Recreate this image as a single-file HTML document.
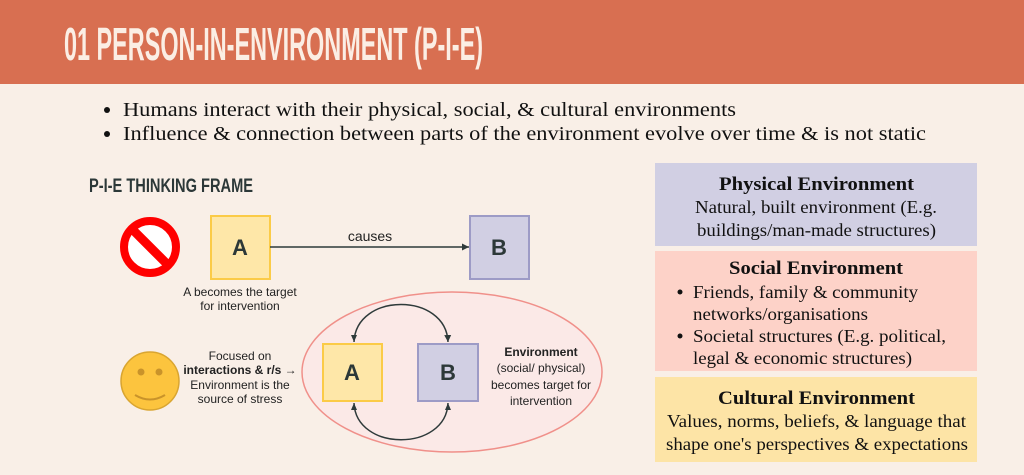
<!DOCTYPE html>
<html><head><meta charset="utf-8"><style>
html,body{margin:0;padding:0;background:#f9efe7;}
svg{display:block}
</style></head><body>
<svg width="1024" height="475" viewBox="0 0 1024 475" xmlns="http://www.w3.org/2000/svg">
<defs>
<marker id="ah" markerWidth="8" markerHeight="8" refX="7" refY="4" orient="auto" markerUnits="userSpaceOnUse"><path d="M0,0.5 L7,4 L0,7.5 z" fill="#2e3a3a"/></marker>
</defs>
<rect width="1024" height="475" fill="#f9efe7"/>
<rect width="1024" height="84" fill="#d86f51"/>
<text x="64" y="60" font-family="'Liberation Sans Narrow', 'Liberation Sans', sans-serif" font-weight="bold" font-size="46" fill="#fbeee4" textLength="419" lengthAdjust="spacingAndGlyphs">01 PERSON-IN-ENVIRONMENT (P-I-E)</text>

<g font-family="'Liberation Serif', serif" font-size="20" fill="#111">
<circle cx="107" cy="110" r="3" fill="#111"/>
<text x="123" y="116" textLength="613" lengthAdjust="spacingAndGlyphs">Humans interact with their physical, social, &amp; cultural environments</text>
<circle cx="107" cy="134" r="3" fill="#111"/>
<text x="123" y="140" textLength="803" lengthAdjust="spacingAndGlyphs">Influence &amp; connection between parts of the environment evolve over time &amp; is not static</text>
</g>

<text x="89" y="192" font-family="'Liberation Sans Narrow', 'Liberation Sans', sans-serif" font-weight="bold" font-size="19" fill="#2c3838" textLength="164" lengthAdjust="spacingAndGlyphs">P-I-E THINKING FRAME</text>

<circle cx="150" cy="247" r="26" fill="#fff" stroke="#f00" stroke-width="8"/>
<line x1="132" y1="229" x2="168" y2="265" stroke="#f00" stroke-width="9"/>

<rect x="211" y="216" width="59" height="63" fill="#fee7a8" stroke="#fbcb47" stroke-width="2"/>
<text x="240" y="255" text-anchor="middle" font-family="'Liberation Sans Narrow', 'Liberation Sans', sans-serif" font-weight="bold" font-size="22" fill="#2c3838">A</text>
<rect x="470" y="216" width="59" height="63" fill="#d1cfe3" stroke="#9d9bc6" stroke-width="2"/>
<text x="499" y="255" text-anchor="middle" font-family="'Liberation Sans Narrow', 'Liberation Sans', sans-serif" font-weight="bold" font-size="22" fill="#2c3838">B</text>
<line x1="270" y1="247" x2="469" y2="247" stroke="#2e3a3a" stroke-width="1.5" marker-end="url(#ah)"/>
<g font-family="'Liberation Sans', sans-serif" font-size="12" fill="#222" text-anchor="middle">
<text x="370" y="241" font-size="14">causes</text>
<text x="240" y="296">A becomes the target</text>
<text x="240" y="310">for intervention</text>
</g>

<ellipse cx="452" cy="372" rx="150" ry="80" fill="#fbe9e7" stroke="#f0908a" stroke-width="1.5"/>
<rect x="323" y="344" width="59" height="57" fill="#fee7a8" stroke="#fbcb47" stroke-width="2"/>
<text x="352" y="380" text-anchor="middle" font-family="'Liberation Sans Narrow', 'Liberation Sans', sans-serif" font-weight="bold" font-size="22" fill="#2c3838">A</text>
<rect x="418" y="344" width="60" height="57" fill="#d1cfe3" stroke="#9d9bc6" stroke-width="2"/>
<text x="448" y="380" text-anchor="middle" font-family="'Liberation Sans Narrow', 'Liberation Sans', sans-serif" font-weight="bold" font-size="22" fill="#2c3838">B</text>
<path d="M354,342 C356,292 446,292 448,342" fill="none" stroke="#2e3a3a" stroke-width="1.5" marker-end="url(#ah)"/>
<path d="M354,342 l-3,-7 l6,0 z" fill="#2e3a3a"/>
<path d="M354,403 C356,452 446,452 448,403" fill="none" stroke="#2e3a3a" stroke-width="1.5"/>
<path d="M354,403 l-3,7 l6,0 z" fill="#2e3a3a"/>
<path d="M448,403 l-3,7 l6,0 z" fill="#2e3a3a"/>

<circle cx="150" cy="381" r="29" fill="#fcc43e" stroke="#d9a531" stroke-width="1.5"/>
<circle cx="141" cy="372" r="3.5" fill="#c9932a"/>
<circle cx="159" cy="372" r="3.5" fill="#c9932a"/>
<path d="M135,395 Q150,404 165,395" fill="none" stroke="#c9932a" stroke-width="2"/>

<g font-family="'Liberation Sans', sans-serif" font-size="12" fill="#222" text-anchor="middle">
<text x="240" y="360">Focused on</text>
<text x="240" y="374"><tspan font-weight="bold">interactions &amp; r/s</tspan> →</text>
<text x="240" y="389">Environment is the</text>
<text x="240" y="403">source of stress</text>
<text x="541" y="356" font-weight="bold">Environment</text>
<text x="541" y="372">(social/ physical)</text>
<text x="541" y="389">becomes target for</text>
<text x="541" y="405">intervention</text>
</g>

<rect x="655" y="163" width="322" height="83" fill="#d1cfe3"/>
<rect x="655" y="251" width="322" height="120" fill="#fdd2c8"/>
<rect x="655" y="377" width="322" height="85" fill="#fde4a6"/>
<g font-family="'Liberation Serif', serif" font-size="17.5" fill="#111" lengthAdjust="spacingAndGlyphs">
<text x="719" y="190" font-weight="bold" font-size="19" textLength="195" lengthAdjust="spacingAndGlyphs">Physical Environment</text>
<text x="695" y="213" textLength="242" lengthAdjust="spacingAndGlyphs">Natural, built environment (E.g.</text>
<text x="697" y="236" textLength="239" lengthAdjust="spacingAndGlyphs">buildings/man-made structures)</text>
<text x="729" y="274" font-weight="bold" font-size="19" textLength="174" lengthAdjust="spacingAndGlyphs">Social Environment</text>
<circle cx="680" cy="292" r="2.5" fill="#111"/>
<text x="693" y="298" textLength="225" lengthAdjust="spacingAndGlyphs">Friends, family &amp; community</text>
<text x="693" y="320" textLength="175" lengthAdjust="spacingAndGlyphs">networks/organisations</text>
<circle cx="680" cy="336" r="2.5" fill="#111"/>
<text x="693" y="342" textLength="253" lengthAdjust="spacingAndGlyphs">Societal structures (E.g. political,</text>
<text x="693" y="364" textLength="219" lengthAdjust="spacingAndGlyphs">legal &amp; economic structures)</text>
<text x="718" y="404" font-weight="bold" font-size="19" textLength="197" lengthAdjust="spacingAndGlyphs">Cultural Environment</text>
<text x="667" y="427" textLength="299" lengthAdjust="spacingAndGlyphs">Values, norms, beliefs, &amp; language that</text>
<text x="666" y="450" textLength="302" lengthAdjust="spacingAndGlyphs">shape one's perspectives &amp; expectations</text>
</g>
</svg>
</body></html>
